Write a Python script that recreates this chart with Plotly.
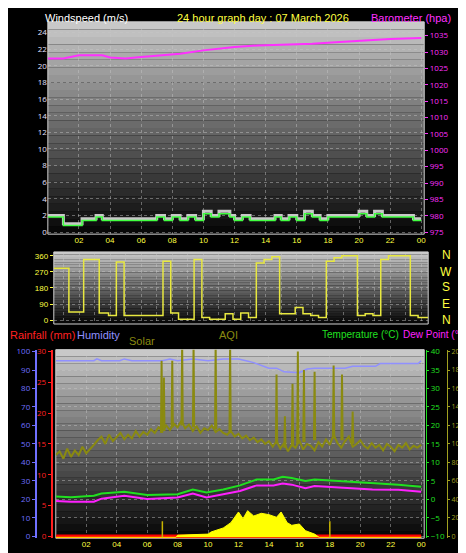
import plotly.graph_objects as go

W, H = 466, 553

# ---- data ----
hour_ticks = [2, 4, 6, 8, 10, 12, 14, 16, 18, 20, 22, 24]
hour_labels = ["02", "04", "06", "08", "10", "12", "14", "16", "18", "20", "22", "00"]

wind_t = [0, 1, 2.2, 3.1, 3.5, 7, 7.5, 8, 8.5, 9, 9.5, 10, 10.5, 11, 11.7, 12, 12.5, 13, 14.6, 15,
          15.5, 16, 16.5, 17, 17.5, 18, 20, 20.5, 21, 21.5, 23.5, 24]
wind_avg = [1.8, 0.8, 1.4, 1.8, 1.4, 1.8, 1.4, 1.8, 1.4, 1.8, 1.4, 2.2, 1.8, 2.2, 1.8, 1.4, 1.8, 1.4, 1.8, 1.4,
            1.8, 1.4, 2.2, 1.8, 1.4, 1.8, 2.2, 1.8, 2.2, 1.8, 1.4, 1.4]
wind_gust = [2.0, 1.0, 1.6, 2.0, 1.6, 2.0, 1.6, 2.0, 1.6, 2.0, 1.6, 2.5, 2.0, 2.5, 2.0, 1.6, 2.0, 1.6, 2.0, 1.6,
             2.0, 1.6, 2.5, 2.0, 1.6, 2.0, 2.5, 2.0, 2.5, 2.0, 1.6, 1.6]

baro_t = [0, 1, 2, 3.5, 4, 5, 6, 7.5, 8.5, 10, 11, 12, 13.5, 16, 17, 18.5, 20, 22, 24]
baro_v = [1028, 1028, 1029, 1029, 1028.3, 1028, 1028.5, 1029, 1029.5, 1030.5, 1031, 1031.5, 1032, 1032.3,
          1032.5, 1033, 1033.5, 1034, 1034.3]

dir_t = [0.38, 1.35, 2.3, 3.3, 3.9, 4.4, 4.9, 7.4, 7.9, 8.4, 9.4, 9.9, 10.4, 11.4, 11.9, 12.4, 12.9, 13.4,
         13.9, 14.4, 14.9, 15.9, 16.4, 16.9, 17.4, 17.9, 18.4, 18.9, 19.9, 20.4, 20.9, 21.4, 21.9, 23.3,
         23.8, 24.45]
dir_v = [290, 45, 340, 40, 25, 325, 25, 330, 40, 5, 340, 15, 5, 35, 5, 40, 15, 320, 340, 355, 35, 70, 35,
         25, 15, 330, 350, 360, 25, 35, 25, 340, 360, 25, 15, 15]

hum_t = [0, 2.5, 2.7, 3, 4.2, 4.5, 5, 7, 7.5, 8, 9, 10, 11, 12, 12.5, 13, 14, 14.5, 15, 16, 16.5, 17, 19,
         19.5, 21, 21.3, 23.8, 24]
hum_v = [95, 95, 96, 95, 95, 96, 95, 95, 96, 95, 96, 95, 96, 96, 95, 94, 91, 91, 89, 88.5, 90.5, 91, 91,
         92, 92, 93.5, 93.5, 95]

temp_t = [0, 1, 2.5, 3, 4.5, 6, 8, 9, 9.9, 11, 12.1, 13.2, 14.3, 14.9, 15.5, 16.4, 17, 18.6, 20.8, 22.5, 24]
temp_v = [0.8, 0.6, 1.0, 1.6, 2.1, 1.2, 1.4, 2.7, 1.9, 2.7, 3.8, 5.4, 5.4, 6.1, 5.8, 5.0, 5.4, 5.0, 4.3, 4.0, 3.4]
dew_v = [-0.4, -0.6, -0.6, 0.2, 1.0, 0.1, 0.5, 1.6, 0.5, 1.5, 2.3, 3.8, 3.8, 4.3, 4.0, 3.0, 3.6, 3.2, 2.7, 2.6, 2.1]

rain_t = [0, 24]
rain_v = [0, 0]

solar_t = [0, 7.9, 8.0, 10.0, 10.2, 11.0, 11.5, 12.0, 12.3, 12.6, 13.0, 13.5, 14.0, 14.5, 14.8, 15.2, 15.5,
           16.0, 16.4, 17.0, 17.3, 24]
solar_v = [0, 0, 8, 12, 20, 35, 55, 95, 70, 100, 80, 90, 85, 75, 95, 55, 45, 50, 25, 12, 0, 0]
solar_spike_t = [7.0, 18.0]
solar_spike_v = [60, 60]

aqi_t = [i * 0.25 for i in range(97)]
aqi_v = [88, 92, 84, 95, 86, 93, 88, 97, 90, 94, 99,
         104, 108, 100, 110, 103, 107, 112, 105, 110, 106, 114, 108, 113, 110,
         116, 112, 118, 114,
         120, 115, 122, 118, 125, 117, 121, 114, 119, 112, 117, 115, 120, 113, 116, 112,
         110, 114, 108, 111, 106, 109, 104, 107, 102, 105, 100, 103,
         97, 103, 95, 101, 92, 99, 96, 104, 94, 100, 98, 93, 102, 97, 105, 99, 110, 101, 96, 103, 108, 97, 100, 104,
         98, 95, 101, 96, 99, 93, 100, 97, 92, 99, 96, 101, 94, 98, 96, 99]
aqi_spike_t = [6.95, 7.1, 7.65, 8.3, 9.05, 10.5, 11.45, 14.5, 15.05, 15.55, 15.9, 16.3, 17.0, 18.25, 18.8, 19.5]
aqi_spike_lo = [112, 114, 118, 120, 118, 116, 112, 100, 96, 98, 100, 102, 104, 106, 104, 100]
aqi_spike_hi = [190, 172, 190, 210, 210, 210, 210, 175, 130, 165, 200, 180, 178, 185, 175, 135]

YEL = "#ffff40"
OLIVE = "#8a8a10"


def px_x(p):
    return p / W


def px_y(p):
    return 1 - p / H


fig = go.Figure()

# panel 1: wind + barometer
fig.add_trace(go.Scatter(x=wind_t, y=wind_gust, mode="lines", line=dict(color="#c8c8c8", width=3, shape="hv"),
                         xaxis="x", yaxis="y"))
fig.add_trace(go.Scatter(x=wind_t, y=wind_avg, mode="lines", line=dict(color="#40ff40", width=1.5, shape="hv"),
                         xaxis="x", yaxis="y"))
fig.add_trace(go.Scatter(x=baro_t, y=baro_v, mode="lines", line=dict(color="#ff30ff", width=2),
                         xaxis="x", yaxis="y2"))

# panel 2: wind direction
fig.add_trace(go.Scatter(x=dir_t, y=dir_v, mode="lines", line=dict(color="#e8e840", width=1.5, shape="hv"),
                         xaxis="x2", yaxis="y3"))

# panel 3
fig.add_trace(go.Scatter(x=solar_t, y=solar_v, mode="lines", fill="tozeroy", fillcolor="#ffff00",
                         line=dict(color="#ffff00", width=1), xaxis="x3", yaxis="y8"))
sx, sy = [], []
for t, v in zip(solar_spike_t, solar_spike_v):
    sx += [t, t, None]
    sy += [0, v, None]
fig.add_trace(go.Scatter(x=sx, y=sy, mode="lines", line=dict(color="#c8b400", width=1.5),
                         xaxis="x3", yaxis="y8"))
fig.add_trace(go.Scatter(x=aqi_t, y=aqi_v, mode="lines", line=dict(color=OLIVE, width=2),
                         xaxis="x3", yaxis="y7"))
ax_, ay_ = [], []
for t, lo, hi in zip(aqi_spike_t, aqi_spike_lo, aqi_spike_hi):
    ax_ += [t - 0.04, t, t + 0.04, None]
    ay_ += [lo, hi, lo, None]
fig.add_trace(go.Scatter(x=ax_, y=ay_, mode="lines", line=dict(color=OLIVE, width=2),
                         xaxis="x3", yaxis="y7"))
fig.add_trace(go.Scatter(x=hum_t, y=hum_v, mode="lines", line=dict(color="#9090ff", width=1.5),
                         xaxis="x3", yaxis="y4"))
fig.add_trace(go.Scatter(x=temp_t, y=temp_v, mode="lines", line=dict(color="#20e020", width=2),
                         xaxis="x3", yaxis="y6"))
fig.add_trace(go.Scatter(x=temp_t, y=dew_v, mode="lines", line=dict(color="#ff20ff", width=2),
                         xaxis="x3", yaxis="y6"))
fig.add_trace(go.Scatter(x=rain_t, y=rain_v, mode="lines", line=dict(color="#ff0000", width=4),
                         xaxis="x3", yaxis="y5"))

# gradient backgrounds
shapes = []
N = 28
for (x0, x1, y0, y1) in [(40, 418, 10, 225), (46, 422, 243, 316), (48, 418, 342, 533)]:
    for i in range(N):
        f = i / (N - 1)
        g = int(200 * (1 - f) + 8 * f)
        shapes.append(dict(type="rect", xref="paper", yref="paper", layer="below", line_width=0,
                           x0=px_x(x0), x1=px_x(x1),
                           y0=px_y(y0 + (y1 - y0) * (i + 1) / N), y1=px_y(y0 + (y1 - y0) * i / N),
                           fillcolor=f"rgb({g},{g},{g})"))
    shapes.append(dict(type="rect", xref="paper", yref="paper", layer="below",
                       x0=px_x(x0), x1=px_x(x1), y0=px_y(y1), y1=px_y(y0),
                       line=dict(color="#d0d0d0", width=1)))

grid = dict(showgrid=True, gridcolor="rgba(200,200,200,0.45)", griddash="dot", gridwidth=1, zeroline=False)
tickf = dict(size=8, color=YEL, family="Liberation Sans, Arial")

fig.update_layout(
    width=W, height=H, margin=dict(l=0, r=0, t=0, b=0),
    paper_bgcolor="black", plot_bgcolor="rgba(0,0,0,0)", showlegend=False, shapes=shapes,
    xaxis=dict(domain=[px_x(40), px_x(418)], range=[0, 24.19], anchor="y", tickvals=hour_ticks,
               ticktext=hour_labels, tickfont=tickf, **grid),
    yaxis=dict(domain=[px_y(225), px_y(10)], range=[-0.25, 25.3], tickvals=list(range(0, 25, 2)),
               tickfont=dict(size=8, color="#e0e0ff"), anchor="x", **grid),
    yaxis2=dict(overlaying="y", side="right", range=[974.4, 1039.2], tickvals=list(range(975, 1036, 5)),
                tickfont=dict(size=8, color="#ff30ff"), ticks="outside", tickcolor="#ff30ff", ticklen=3,
                showgrid=False, zeroline=False, anchor="x"),
    xaxis2=dict(domain=[px_x(46), px_x(422)], range=[0.38, 24.45], anchor="y3", showticklabels=False,
                tickvals=list(range(1, 25)), **grid),
    yaxis3=dict(domain=[px_y(316), px_y(243)], range=[-22, 382], tickvals=[0, 90, 180, 270, 360],
                tickfont=tickf, ticks="outside", tickcolor=YEL, ticklen=3, anchor="x2", **grid),
    xaxis3=dict(domain=[px_x(48), px_x(418)], range=[0, 24.2], anchor="y4", tickvals=hour_ticks,
                ticktext=hour_labels, tickfont=tickf, **grid),
    yaxis4=dict(domain=[px_y(533), px_y(342)], range=[-1, 101], tickvals=list(range(0, 101, 10)),
                tickfont=dict(size=8, color="#7070ff"), anchor="free", position=px_x(28), side="left",
                showline=True, linecolor="#7070ff", linewidth=2, ticks="outside", tickcolor="#7070ff",
                ticklen=3, **grid),
    yaxis5=dict(overlaying="y4", range=[-0.3, 30.3], tickvals=[0, 5, 10, 15, 20, 25, 30],
                tickfont=dict(size=8, color="#ff2020"), anchor="free", position=px_x(44), side="left",
                showline=True, linecolor="#ff2020", linewidth=2, ticks="outside", tickcolor="#ff2020",
                ticklen=3, showgrid=False, zeroline=False),
    yaxis6=dict(overlaying="y4", range=[-10.5, 40.5], tickvals=list(range(-10, 41, 5)),
                tickfont=dict(size=8, color="#20e020"), anchor="free", position=px_x(420), side="right",
                showline=True, linecolor="#20e020", ticks="outside", tickcolor="#20e020", ticklen=2,
                showgrid=False, zeroline=False),
    yaxis7=dict(overlaying="y4", range=[-2, 202], tickvals=list(range(0, 201, 20)),
                tickfont=dict(size=7, color="#a0a020"), anchor="free", position=px_x(441), side="right",
                showline=True, linecolor="#a0a020", ticks="outside", tickcolor="#a0a020", ticklen=2,
                showgrid=False, zeroline=False),
    yaxis8=dict(overlaying="y4", range=[-3.5, 703.5], visible=False),
)

font = "Liberation Sans, Arial"
labels = [
    ("Windspeed (m/s)", 35, 6, "white", "left", 11),
    ("24 hour graph day : 07 March 2026", 256, 6, YEL, "center", 11),
    ("Barometer (hpa)", 447, 6, "#ff30ff", "right", 11),
    ("Rainfall (mm)", 0, 327, "#ff2020", "left", 11),
    ("Humidity", 67, 327, "#9090ff", "left", 11),
    ("Solar", 120, 333, OLIVE, "left", 11),
    ("AQI", 221, 327, OLIVE, "center", 11),
    ("Temperature (°C)", 313, 327, "#20e020", "left", 10),
    ("Dew Point (°C)", 465, 327, "#ff20ff", "right", 10),
]
for txt, x, y, c, al, s in labels:
    fig.add_annotation(text=txt, x=px_x(x), y=px_y(y), xref="paper", yref="paper", showarrow=False,
                       xanchor=al, yanchor="middle", font=dict(size=s, color=c, family=font))
for txt, y in zip(["N", "W", "S", "E", "N"], [246, 263, 279, 296, 312]):
    fig.add_annotation(text=txt, x=px_x(440), y=px_y(y), xref="paper", yref="paper", showarrow=False,
                       xanchor="center", yanchor="middle", font=dict(size=12, color=YEL, family=font))

fig.write_html("out.html")
